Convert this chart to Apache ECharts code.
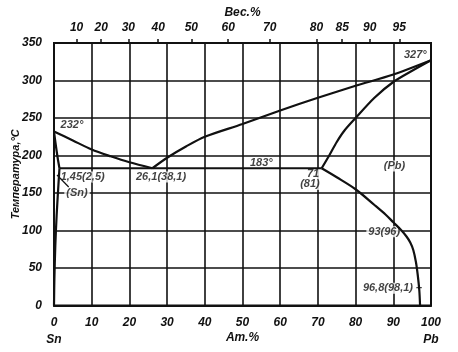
<!DOCTYPE html>
<html><head><meta charset="utf-8">
<script src="https://cdn.jsdelivr.net/npm/echarts@6/dist/echarts.min.js"></script>
<style>html,body{margin:0;padding:0;background:#fff}#c{width:458px;height:352px}</style>
</head><body><div id="c"></div>
<script>
// Bottom axis: atomic % Pb ; left axis: temperature °C
const atTicks = [0,10,20,30,40,50,60,70,80,90,100];
const tempTicks = [0,50,100,150,200,250,300,350];
// Top axis: weight % Pb tick labels
const wtTicks = [10,20,30,40,50,60,70,80,85,90,95];

// Curves: [at.% Pb, T °C]
const liquidusSn = [[0,232],[5,220],[10,208],[15,199],[20,191],[26.1,183]];
const liquidusPb = [[26.1,183],[30,197],[35,212],[40,225],[50,242],[60,260],[70,277],[80,293],[90,308],[100,327]];
const solidusPb  = [[71,183],[73,200],[75,218],[77,233],[80,250],[85,277],[90,298],[95,313],[100,327]];
const solvusPb   = [[71,183],[75,171],[80,155],[85,134],[88,121],[90,111],[92,101],[93.5,92],[94.5,84],[95.3,74],[96,58],[96.5,40],[96.9,20],[97.1,0]];
const eutectic   = [[1.45,183],[71,183]];
const solidusSn  = [[0,232],[0.5,213],[1.0,196],[1.45,183]];
const solvusSn   = [[1.45,183],[1.1,155],[0.7,120],[0.35,80],[0.1,35],[0,0]];
const leaderSn   = [[0.8,174],[3.9,158]];

// Text annotations: [at.%, T, text]
const notes = [
  [1.2,241,'232°','left'],
  [99.4,334,'327°','right'],
  [55,190.5,'183°','center'],
  [90.3,186,'(Pb)','center'],
  [68.7,175.5,'71','center'],
  [67.9,161.5,'(81)','center'],
  [28.4,171.5,'26,1(38,1)','center'],
  [7.6,171.5,'1,45(2,5)','center'],
  [6.1,150,'(Sn)','center'],
  [87.6,98.5,'93(96)','center'],
  [89.8,23,'96,8(98,1) –','center']
];

const wtToAt = w => { const a = w/207.2, b = (100-w)/118.71; return 100*a/(a+b); };
const topPos = wtTicks.map(wtToAt);

const FONT = 'Liberation Sans';
const txt = {fontFamily: FONT, fontStyle:'italic', fontWeight:'bold', color:'#111', fontSize:12};
const lineS = (data, smooth) => ({
  type:'line', data, showSymbol:false, symbol:'none', smooth: smooth, animation:false,
  lineStyle:{color:'#111', width:2.2}, z:3
});

const chart = echarts.init(document.getElementById('c'), null, {renderer:'canvas'});
chart.setOption({
  animation:false,
  backgroundColor:'#fff',
  grid:{left:54, right:27, top:43, bottom:46.5, show:true, borderColor:'#111', borderWidth:2,
        backgroundColor:'transparent', containLabel:false, outerBoundsMode:'none'},
  xAxis:[
    {type:'value', min:0, max:100, interval:10, position:'bottom',
     axisLine:{show:true, lineStyle:{color:'#111', width:2}}, axisTick:{show:false},
     splitLine:{show:true, lineStyle:{color:'#111', width:1.6}},
     axisLabel:Object.assign({}, txt, {margin:9, lineHeight:17,
        formatter: v => v===0 ? '0\nSn' : (v===100 ? '100\nPb' : String(v))}),
     name:'Ат.%', nameLocation:'middle', nameGap:26, nameMoveOverlap:false,
     nameTextStyle:Object.assign({}, txt)},
    {type:'value', min:0, max:100, position:'top',
     axisLine:{show:true, lineStyle:{color:'#111', width:2}},
     axisTick:{show:true, inside:false, length:4, customValues:topPos, lineStyle:{color:'#111', width:1.5}},
     splitLine:{show:false},
     axisLabel:Object.assign({}, txt, {margin:9, customValues:topPos,
        formatter: v => { const i = topPos.findIndex(p => Math.abs(p-v) < 1e-6); return i>=0 ? String(wtTicks[i]) : ''; }}),
     name:'Вес.%', nameLocation:'middle', nameGap:24, nameMoveOverlap:false,
     nameTextStyle:Object.assign({}, txt)}
  ],
  yAxis:[{type:'value', min:0, max:350, interval:50,
     axisLine:{show:true, lineStyle:{color:'#111', width:2}}, axisTick:{show:false},
     splitLine:{show:true, lineStyle:{color:'#111', width:1.6}},
     axisLabel:Object.assign({}, txt, {margin:12}),
     name:'Температура,°С', nameLocation:'middle', nameRotate:90, nameGap:33, nameMoveOverlap:false,
     nameTextStyle:Object.assign({}, txt, {fontSize:11})}],
  series:[
    lineS(liquidusSn, 0.3),
    lineS(liquidusPb, 0.3),
    lineS(solidusPb, 0.3),
    lineS(solvusPb, 0.3),
    lineS(eutectic, false),
    lineS(solidusSn, 0.3),
    lineS(solvusSn, 0.3),
    Object.assign(lineS(leaderSn, false), {lineStyle:{color:'#111', width:1.2}}),
    {type:'scatter', symbolSize:0, z:2, animation:false,
     data: notes.map(n => ({value:[n[0], n[1]], name:n[2],
        label:{align:n[3]}})),
     label:Object.assign({show:true, position:'inside', formatter: p => p.name,
        backgroundColor:'#fff', padding:[0,2], verticalAlign:'middle'}, txt, {fontSize:11})}
  ]
});
</script></body></html>
